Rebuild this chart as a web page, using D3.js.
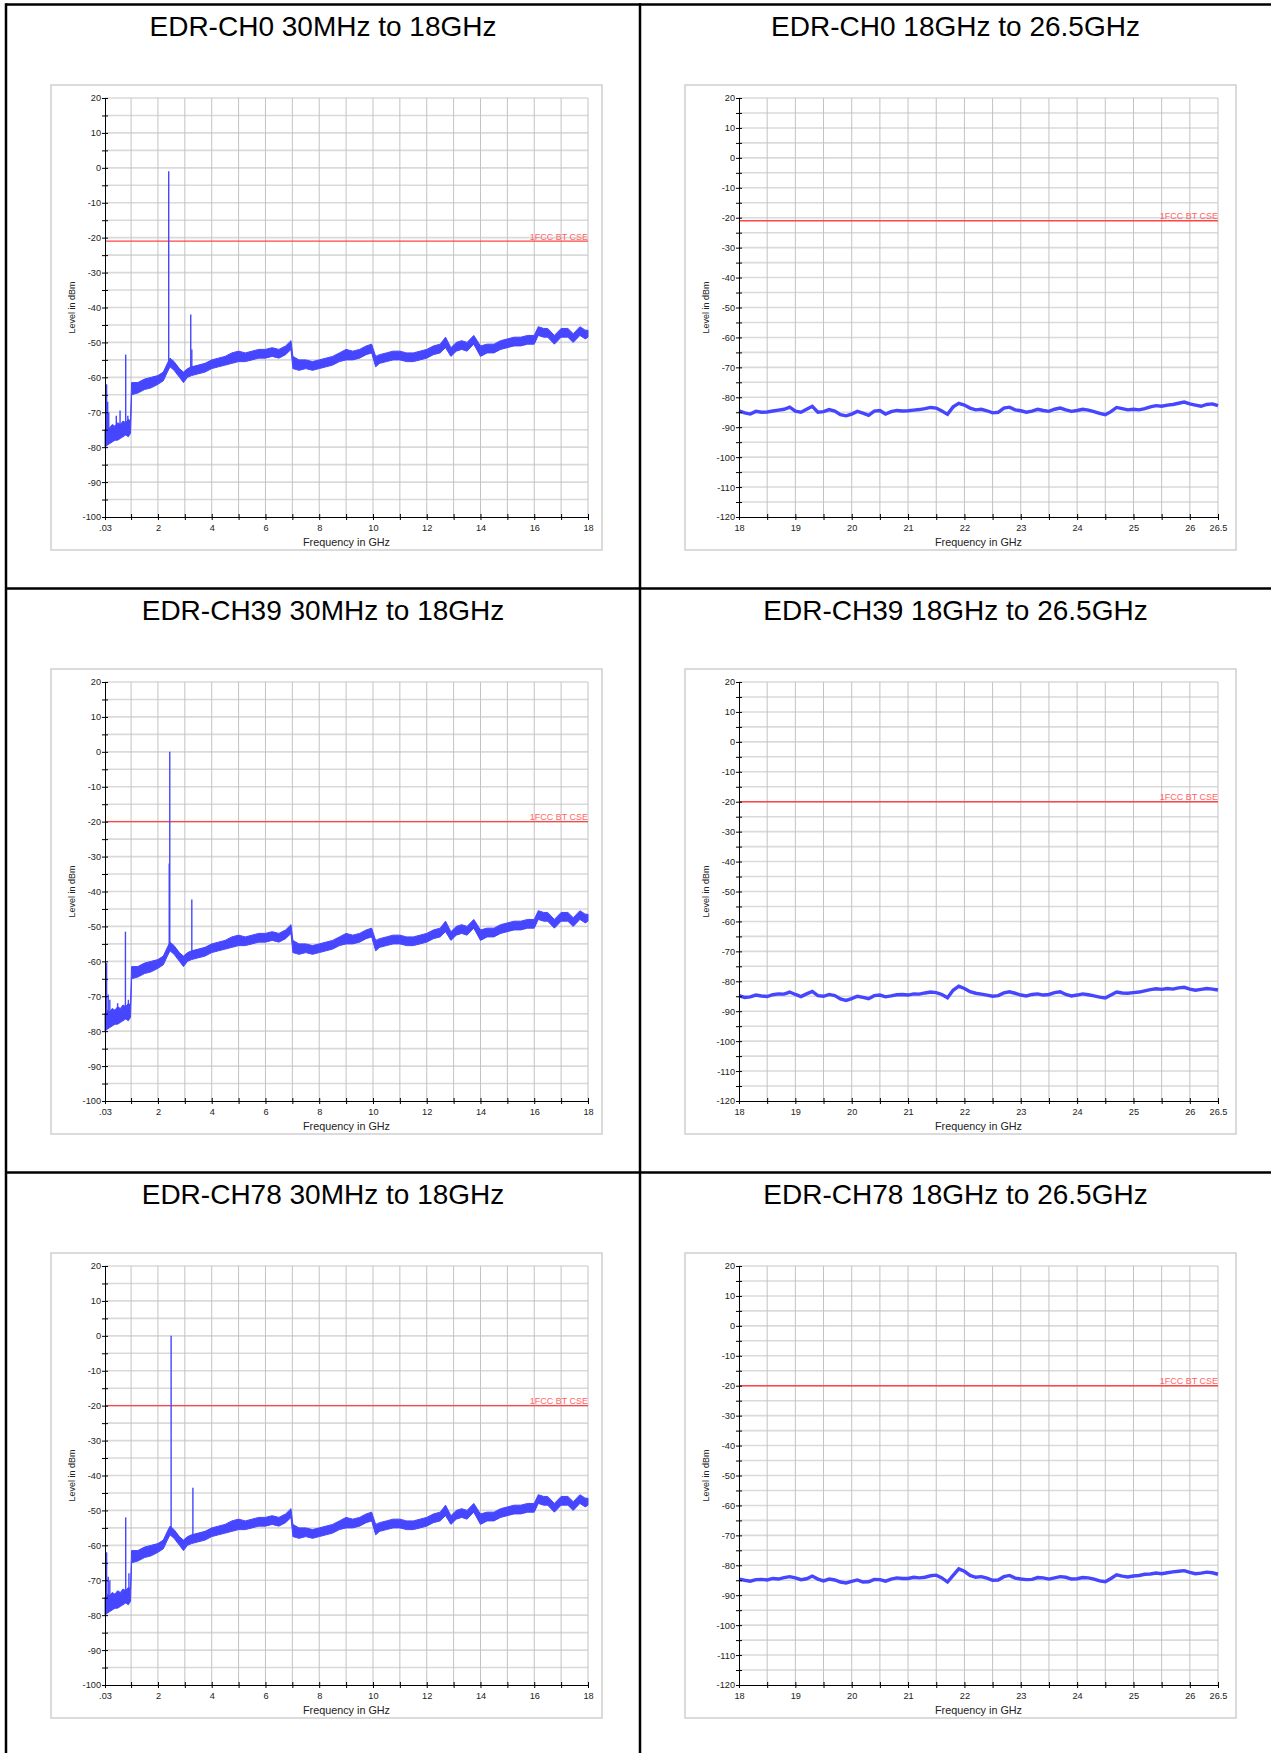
<!DOCTYPE html>
<html>
<head>
<meta charset="utf-8">
<script src="https://cdn.jsdelivr.net/npm/d3@7/dist/d3.min.js"></script>
<style>
body { margin: 0; background: #fff; }
text { font-family: 'Liberation Sans', Arial, sans-serif; }
</style>
</head>
<body>
<div id="page"></div>
<script>
// ---- titles / limits
const titles = [
    ['EDR-CH0 30MHz to 18GHz', 'EDR-CH0 18GHz to 26.5GHz'],
    ['EDR-CH39 30MHz to 18GHz', 'EDR-CH39 18GHz to 26.5GHz'],
    ['EDR-CH78 30MHz to 18GHz', 'EDR-CH78 18GHz to 26.5GHz']
];
const limits = [-21, -20, -20];
const limitLabel = '1FCC BT CSE';

// ---- axes ticks
const lowXTicks = [0.03, 1, 2, 3, 4, 5, 6, 7, 8, 9, 10, 11, 12, 13, 14, 15, 16, 17, 18];
const lowXLabels = ['.03', '', '2', '', '4', '', '6', '', '8', '', '10', '', '12', '', '14', '', '16', '', '18'];
const highXTicks = [18, 18.5, 19, 19.5, 20, 20.5, 21, 21.5, 22, 22.5, 23, 23.5, 24, 24.5, 25, 25.5, 26, 26.5];
const highXLabels = ['18', '', '19', '', '20', '', '21', '', '22', '', '23', '', '24', '', '25', '', '26', '26.5'];
const lowYTicks = [20, 15, 10, 5, 0, -5, -10, -15, -20, -25, -30, -35, -40, -45, -50, -55, -60, -65, -70, -75, -80, -85, -90, -95, -100];
const lowYLabels = ['20', '', '10', '', '0', '', '-10', '', '-20', '', '-30', '', '-40', '', '-50', '', '-60', '', '-70', '', '-80', '', '-90', '', '-100'];
const highYTicks = [20, 15, 10, 5, 0, -5, -10, -15, -20, -25, -30, -35, -40, -45, -50, -55, -60, -65, -70, -75, -80, -85, -90, -95, -100, -105, -110, -115, -120];
const highYLabels = ['20', '', '10', '', '0', '', '-10', '', '-20', '', '-30', '', '-40', '', '-50', '', '-60', '', '-70', '', '-80', '', '-90', '', '-100', '', '-110', '', '-120'];

// ---- 30MHz-18GHz noise floor (band low / high edge, dBm)
const floorFreq = [0.03, 0.1, 0.2, 0.3, 0.4, 0.5, 0.6, 0.7, 0.8, 0.9, 0.98, 1.02, 1.25, 1.5, 1.75, 2.0, 2.2, 2.35, 2.45, 2.6,
    2.8, 2.95, 3.1, 3.25, 3.5, 3.75, 4.0, 4.25, 4.5, 4.75, 5.0, 5.25, 5.5, 5.75, 6.0, 6.25, 6.5, 6.75, 6.95, 7.02,
    7.25, 7.5, 7.75, 8.0, 8.25, 8.5, 8.75, 9.0, 9.25, 9.5, 9.75, 9.95, 10.1, 10.25, 10.5, 10.75, 11.0, 11.25, 11.5, 11.75,
    12.0, 12.25, 12.5, 12.7, 12.9, 13.1, 13.3, 13.5, 13.75, 14.0, 14.25, 14.5, 14.75, 15.0, 15.25, 15.5, 15.75, 16.0, 16.15, 16.35,
    16.5, 16.75, 17.0, 17.25, 17.45, 17.7, 17.9, 18.0];
const floorLo = [-80, -79.5, -79, -78.5, -78, -78, -77.5, -77, -76.5, -77, -76, -65, -64.5, -63.5, -63, -62, -61, -58.5, -57, -58,
    -60, -61.5, -60, -59.5, -59, -58.5, -57.5, -57, -56.5, -56, -55.5, -55.5, -55, -54.5, -54.5, -54, -54.5, -53.5, -52, -57.5,
    -58, -57.5, -58, -57.5, -57, -56.5, -55.5, -55, -55, -54.5, -53.5, -53, -57, -56, -55.5, -55, -55, -55.5, -55.5, -55,
    -54.5, -53.5, -53, -51.5, -54, -52.5, -52, -52.5, -50.5, -54, -53, -53, -52, -51.5, -51, -51, -50.5, -50.5, -48, -48.5,
    -48.5, -50.5, -48.5, -48.5, -50, -48, -49, -48.5];
const floorHi = [-75, -74, -74.5, -73.5, -74, -73, -73.5, -72.5, -73, -72, -72.5, -61.5, -61.5, -60.5, -60, -59.5, -58.5, -56, -54.5, -55.5,
    -57.5, -58.5, -57.5, -57, -56.5, -56, -55, -54.5, -54, -53, -52.5, -53, -52.5, -52, -52, -51.5, -52, -51, -49.5, -54,
    -55, -55, -55.5, -55, -54.5, -54, -53, -52, -52.5, -52, -51, -50.5, -54, -53.5, -53, -52.5, -52.5, -53, -53, -52.5,
    -52, -51, -50.5, -48.5, -51.5, -50, -49.5, -50, -48, -51, -50.5, -50.5, -49.5, -49, -48.5, -48.5, -48, -48, -45.5, -46,
    -46, -48, -46, -46, -47.5, -45.5, -46.5, -46.5];

// ---- spurs / carriers (freq GHz, peak dBm, foot dBm)
const ch0SpurFreq = [0.09, 0.13, 0.17, 0.45, 0.59, 0.8, 0.88, 2.40, 3.22, 3.26];
const ch0SpurPeak = [-62, -67, -70, -71, -69.5, -53.5, -71, -1, -42, -52];
const ch0SpurFoot = [-76, -76, -76, -75, -75, -74, -74, -57, -58, -58];
const ch39SpurFreq = [0.09, 0.15, 0.21, 0.5, 0.79, 0.9, 2.42, 2.44, 3.26];
const ch39SpurPeak = [-60.5, -69.5, -71, -72, -51.5, -71, -32, 0, -42.3];
const ch39SpurFoot = [-76, -76, -76, -75, -74, -74, -57, -57, -58];
const ch78SpurFreq = [0.09, 0.15, 0.21, 0.8, 0.92, 2.49, 3.30];
const ch78SpurPeak = [-62, -69, -70, -52, -68, 0, -43.5];
const ch78SpurFoot = [-76, -76, -76, -74, -74, -56, -58];

// ---- 18-26.5GHz traces
const highFreq = [18.0, 18.1, 18.2, 18.3, 18.4, 18.5, 18.6, 18.7, 18.8, 18.9, 19.0, 19.1, 19.2, 19.3, 19.4, 19.5, 19.6, 19.7, 19.8, 19.9,
    20.0, 20.1, 20.2, 20.3, 20.4, 20.5, 20.6, 20.7, 20.8, 20.9, 21.0, 21.1, 21.2, 21.3, 21.4, 21.5, 21.6, 21.7, 21.8, 21.9,
    22.0, 22.1, 22.2, 22.3, 22.4, 22.5, 22.6, 22.7, 22.8, 22.9, 23.0, 23.1, 23.2, 23.3, 23.4, 23.5, 23.6, 23.7, 23.8, 23.9,
    24.0, 24.1, 24.2, 24.3, 24.4, 24.5, 24.6, 24.7, 24.8, 24.9, 25.0, 25.1, 25.2, 25.3, 25.4, 25.5, 25.6, 25.7, 25.8, 25.9,
    26.0, 26.1, 26.2, 26.3, 26.4, 26.5];
const ch0High = [-84.5, -85.2, -85.6, -84.7, -85.0, -84.9, -84.6, -84.3, -84.0, -83.3,
    -84.6, -85.0, -84.0, -83.0, -85.0, -84.8, -84.1, -84.6, -85.8, -86.2,
    -85.6, -84.7, -85.3, -86.0, -84.6, -84.4, -85.6, -84.8, -84.4, -84.6,
    -84.5, -84.3, -84.1, -83.8, -83.4, -83.6, -84.6, -85.7, -83.2, -82.0,
    -82.6, -83.6, -84.2, -84.0, -84.5, -85.2, -85.0, -83.6, -83.3, -84.2,
    -84.5, -85.0, -84.6, -84.0, -84.4, -84.7, -84.0, -83.6, -84.2, -84.7,
    -84.4, -84.0, -84.3, -84.8, -85.4, -85.8, -84.8, -83.4, -83.8, -84.2,
    -84.0, -84.2, -83.8, -83.2, -82.8, -83.0, -82.6, -82.4, -82.0, -81.6,
    -82.2, -82.6, -83.0, -82.4, -82.2, -82.8];
const ch39High = [-84.8, -85.4, -85.2, -84.6, -84.9, -85.1, -84.5, -84.2, -84.3, -83.6,
    -84.4, -85.1, -84.2, -83.4, -84.8, -85.0, -84.4, -84.8, -85.9, -86.4,
    -85.8, -85.0, -85.4, -85.8, -84.8, -84.6, -85.2, -84.9, -84.5, -84.4,
    -84.6, -84.2, -84.3, -83.9, -83.6, -83.8, -84.4, -85.5, -83.0, -81.6,
    -82.4, -83.5, -84.0, -84.3, -84.6, -85.0, -84.8, -83.9, -83.5, -84.0,
    -84.6, -84.9, -84.4, -84.2, -84.6, -84.4, -83.8, -83.5, -84.4, -84.9,
    -84.6, -84.2, -84.5, -84.9, -85.3, -85.6, -84.6, -83.6, -83.9, -84.0,
    -83.8, -83.6, -83.2, -82.8, -82.5, -82.7, -82.4, -82.6, -82.2, -82.0,
    -82.6, -83.0, -82.7, -82.4, -82.6, -82.9];
const ch78High = [-84.6, -85.0, -85.3, -84.8, -84.7, -84.9, -84.4, -84.6, -84.1, -83.8,
    -84.2, -84.8, -84.5, -83.6, -84.6, -85.2, -84.6, -84.9, -85.6, -85.9,
    -85.4, -84.9, -85.6, -85.5, -84.7, -84.8, -85.3, -84.6, -84.2, -84.4,
    -84.4, -84.0, -84.2, -84.0, -83.5, -83.3, -84.2, -85.6, -83.4, -81.2,
    -82.0, -83.4, -84.0, -83.8, -84.3, -85.0, -84.9, -83.8, -83.4, -84.3,
    -84.6, -84.8, -84.7, -84.1, -84.2, -84.6, -84.2, -83.8, -84.0, -84.6,
    -84.5, -84.1, -84.2, -84.6, -85.2, -85.5, -84.4, -83.2, -83.6, -83.9,
    -83.6, -83.4, -83.0, -82.9, -82.6, -82.8, -82.5, -82.2, -82.0, -81.8,
    -82.4, -82.8, -82.6, -82.3, -82.5, -83.0];

const spurs = [
    [ch0SpurFreq, ch0SpurPeak, ch0SpurFoot],
    [ch39SpurFreq, ch39SpurPeak, ch39SpurFoot],
    [ch78SpurFreq, ch78SpurPeak, ch78SpurFoot]
];
const highTraces = [ch0High, ch39High, ch78High];

const TRACE = '#4646ff';
const ROW_H = 584;

/**
 * One analyzer plot (boxed chart with grid, limit line and trace) inside a table cell
 */
class SpectrumPlot {
    constructor(svg, cfg) {
        this.svg = svg;
        this.cfg = cfg;
        let rowTop = 4.5 + ROW_H * cfg.row;
        let cellLeft = cfg.col === 0 ? 6 : 640;
        this.box = { x: cellLeft + 45, y: rowTop + 80.5, w: 551, h: 465 };
        this.left = this.box.x + 54;
        this.right = this.box.x + (cfg.col === 0 ? 537 : 533);
        this.top = rowTop + 93.5;
        this.bottom = rowTop + 512.5;
        this.titleX = cfg.col === 0 ? 323 : 955.5;
        this.titleY = rowTop + 31;

        this.drawPlot();
    }

    drawPlot() {
        let that = this;
        let cfg = this.cfg;
        let g = this.svg.append('g').classed('panel', true);

        g.append('text')
            .text(cfg.title)
            .attr('x', this.titleX)
            .attr('y', this.titleY)
            .attr('text-anchor', 'middle')
            .attr('font-size', 28)
            .attr('fill', '#000');

        g.append('rect')
            .attr('x', this.box.x)
            .attr('y', this.box.y)
            .attr('width', this.box.w)
            .attr('height', this.box.h)
            .attr('fill', '#fff')
            .attr('stroke', '#cfcfcf')
            .attr('stroke-width', 1.5);

        this.xScale = d3.scaleLinear().domain(cfg.xDomain).range([this.left, this.right]);
        this.yScale = d3.scaleLinear().domain(cfg.yDomain).range([this.bottom, this.top]);

        //grid
        g.append('g').selectAll('line')
            .data(cfg.yTicks.filter(d => d !== cfg.yDomain[0]))
            .join('line')
            .attr('x1', this.left)
            .attr('x2', this.right)
            .attr('y1', d => that.yScale(d))
            .attr('y2', d => that.yScale(d))
            .attr('stroke', '#dadada')
            .attr('stroke-width', 1.6);
        g.append('g').selectAll('line')
            .data(cfg.xTicks.filter(d => d !== cfg.xDomain[0]))
            .join('line')
            .attr('x1', d => that.xScale(d))
            .attr('x2', d => that.xScale(d))
            .attr('y1', this.top)
            .attr('y2', this.bottom)
            .attr('stroke', '#c3c3c3')
            .attr('stroke-width', 1);

        //limit line
        let yLim = this.yScale(cfg.limit);
        g.append('line')
            .attr('x1', this.left)
            .attr('x2', this.right)
            .attr('y1', yLim)
            .attr('y2', yLim)
            .attr('stroke', '#ff4545')
            .attr('stroke-width', 1.4);
        g.append('text')
            .text(limitLabel)
            .attr('x', this.right)
            .attr('y', yLim - 1.5)
            .attr('text-anchor', 'end')
            .attr('font-size', 9)
            .attr('fill', '#ff6464');

        //trace
        if (cfg.kind === 'low') {
            let band = floorFreq.map((f, i) => ({ f: f, lo: floorLo[i], hi: floorHi[i] }));
            let areaFn = d3.area()
                .x(d => that.xScale(d.f))
                .y0(d => that.yScale(d.lo))
                .y1(d => that.yScale(d.hi));
            g.append('path')
                .attr('d', areaFn(band))
                .attr('fill', TRACE)
                .attr('stroke', TRACE)
                .attr('stroke-width', 1);
            let sp = cfg.spurs[0].map((f, i) => ({ f: f, peak: cfg.spurs[1][i], foot: cfg.spurs[2][i] }));
            g.append('g').selectAll('line')
                .data(sp)
                .join('line')
                .attr('x1', d => that.xScale(d.f))
                .attr('x2', d => that.xScale(d.f))
                .attr('y1', d => that.yScale(d.foot))
                .attr('y2', d => that.yScale(d.peak))
                .attr('stroke', TRACE)
                .attr('stroke-width', 1.4);
        } else {
            let pts = highFreq.map((f, i) => ({ f: f, v: cfg.trace[i] }));
            let lineFn = d3.line()
                .x(d => that.xScale(d.f))
                .y(d => that.yScale(d.v));
            g.append('path')
                .attr('d', lineFn(pts))
                .attr('fill', 'none')
                .attr('stroke', TRACE)
                .attr('stroke-width', 3.4)
                .attr('stroke-linejoin', 'miter');
        }

        //axes
        let yAxis = d3.axisLeft(this.yScale)
            .tickValues(cfg.yTicks)
            .tickFormat((d, i) => cfg.yLabels[i])
            .tickSizeInner(3)
            .tickSizeOuter(0)
            .tickPadding(1);
        let yg = g.append('g')
            .attr('transform', 'translate(' + this.left + ',0)')
            .call(yAxis);
        yg.selectAll('.tick line').attr('x1', 3).attr('x2', -3);

        let xAxis = d3.axisBottom(this.xScale)
            .tickValues(cfg.xTicks)
            .tickFormat((d, i) => cfg.xLabels[i])
            .tickSizeInner(3)
            .tickSizeOuter(0)
            .tickPadding(4.5);
        let xg = g.append('g')
            .attr('transform', 'translate(0,' + this.bottom + ')')
            .call(xAxis);
        xg.selectAll('.tick line').attr('y1', -3).attr('y2', 3);

        [yg, xg].forEach(a => {
            a.attr('font-family', "'Liberation Sans', Arial, sans-serif")
                .attr('font-size', 9.2);
            a.selectAll('text').attr('fill', '#222');
            a.select('.domain').attr('stroke', '#000');
            a.selectAll('.tick line').attr('stroke', '#000');
        });

        g.append('text')
            .text('Frequency in GHz')
            .attr('x', (this.left + this.right) / 2)
            .attr('y', this.box.y + 461)
            .attr('text-anchor', 'middle')
            .attr('font-size', 10.8)
            .attr('fill', '#222');
        g.append('text')
            .text('Level in dBm')
            .attr('transform', 'translate(' + (this.box.x + 24) + ',' + ((this.top + this.bottom) / 2) + ') rotate(-90)')
            .attr('text-anchor', 'middle')
            .attr('font-size', 9)
            .attr('fill', '#222');
    }
}

let svg = d3.select('#page')
    .append('svg')
    .attr('width', 1271)
    .attr('height', 1753);

//table frame
let frame = svg.append('g').attr('stroke', '#000').attr('stroke-width', 2.5);
frame.append('line').attr('x1', 6).attr('x2', 1271).attr('y1', 4.5).attr('y2', 4.5);
frame.append('line').attr('x1', 6).attr('x2', 1271).attr('y1', 4.5 + ROW_H).attr('y2', 4.5 + ROW_H);
frame.append('line').attr('x1', 6).attr('x2', 1271).attr('y1', 4.5 + 2 * ROW_H).attr('y2', 4.5 + 2 * ROW_H);
frame.append('line').attr('x1', 6).attr('x2', 6).attr('y1', 3.25).attr('y2', 1753);
frame.append('line').attr('x1', 640).attr('x2', 640).attr('y1', 3.25).attr('y2', 1753);

titles.forEach((pair, r) => {
    new SpectrumPlot(svg, {
        row: r, col: 0, kind: 'low', title: pair[0], limit: limits[r],
        xDomain: [0.03, 18], yDomain: [-100, 20],
        xTicks: lowXTicks, xLabels: lowXLabels, yTicks: lowYTicks, yLabels: lowYLabels,
        spurs: spurs[r]
    });
    new SpectrumPlot(svg, {
        row: r, col: 1, kind: 'high', title: pair[1], limit: limits[r],
        xDomain: [18, 26.5], yDomain: [-120, 20],
        xTicks: highXTicks, xLabels: highXLabels, yTicks: highYTicks, yLabels: highYLabels,
        trace: highTraces[r]
    });
});
</script>
</body>
</html>
